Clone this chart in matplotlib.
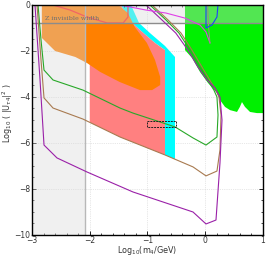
import matplotlib
matplotlib.use('Agg')
import matplotlib.pyplot as plt
from matplotlib.ticker import MultipleLocator

# ---- region boundaries (log10 m4 / GeV, log10 |U|^2) ----
orange_x = [-2.83, -2.83, -2.60, -2.25, -2.05, -1.82, -1.48, -1.13, -0.92, -0.78, -0.78, -0.87, -1.01, -1.22, -1.34, -1.51]
orange_y = [0.0, -1.43, -2.00, -2.26, -2.52, -2.91, -3.35, -3.70, -3.70, -3.48, -3.13, -2.39, -1.65, -0.96, -0.35, 0.0]

pink_x = [-2.0, -2.0, -1.476, -0.697, -0.697, -0.87, -1.13, -1.32, -1.459]
pink_y = [0.0, -5.10, -5.74, -6.52, -1.96, -1.65, -1.09, -0.65, 0.0]

cyan_x = [-1.528, -1.286, -1.147, -0.957, -0.697, -0.524, -0.524, -0.697, -0.697, -0.87, -1.13, -1.32, -1.459]
cyan_y = [0.0, 0.0, -0.78, -1.22, -1.78, -2.26, -6.70, -6.52, -1.96, -1.65, -1.09, -0.65, 0.0]

lime_x = [-0.351, -0.351, -0.229, -0.091, 0.048, 0.203, 0.255, 0.342, 0.429, 0.55, 0.60, 0.636, 0.688, 0.775, 0.896, 1.0, 1.0]
lime_y = [0.0, -1.96, -2.30, -2.91, -3.39, -3.83, -4.13, -4.43, -4.57, -4.65, -4.43, -4.22, -4.43, -4.65, -4.70, -4.70, 0.0]

# ---- curves ----
green_x = [-2.896, -2.844, -2.792, -2.636, -2.117, -1.476, -1.251, -0.524, -0.212, 0.013, 0.203, 0.221, 0.203,
           0.15, 0.065, -0.091, -0.264, -0.455, -0.68, -0.957]
green_y = [0.0, -1.52, -2.83, -3.26, -3.70, -4.48, -4.70, -5.30, -5.78, -6.09, -5.74, -4.78, -4.0,
           -3.70, -3.35, -2.70, -1.96, -1.22, -0.65, 0.0]

brown_x = [-2.913, -2.844, -2.792, -2.636, -2.117, -1.476, -0.697, -0.212, 0.013, 0.203, 0.255, 0.273, 0.238,
           0.186, 0.10, -0.056, -0.23, -0.42, -0.645, -0.922]
brown_y = [0.0, -2.39, -4.04, -4.48, -4.96, -5.74, -6.52, -7.04, -7.43, -7.22, -6.30, -4.78, -4.0,
           -3.70, -3.35, -2.70, -1.96, -1.22, -0.65, 0.0]

purple_x = [-2.948, -2.861, -2.792, -2.567, -2.048, -1.251, -0.212, 0.013, 0.186, 0.255, 0.29, 0.255,
            0.17, 0.03, -0.125, -0.30, -0.51, -0.75, -1.026]
purple_y = [0.0, -3.26, -6.09, -6.65, -7.26, -8.13, -9.0, -9.52, -9.35, -6.87, -5.0, -4.0,
            -3.61, -3.26, -2.70, -1.96, -1.22, -0.65, 0.0]

magenta_x = [-1.476, -1.026, -0.68, -0.35, -0.091, 0.013, 0.082]
magenta_y = [0.0, -0.22, -0.35, -0.57, -0.87, -1.17, -1.65]

grey_x = [0.04, 0.06, 0.082]
grey_y = [0.0, -1.0, -1.65]

blue_x = [0.013, 0.013, 0.117, 0.203, 0.22]
blue_y = [0.0, -1.0, -0.87, -0.52, 0.0]

red_x = [-2.636, -2.34, -2.05, -1.70, -1.42, -1.338, -1.338]
red_y = [0.0, -0.22, -0.52, -0.78, -0.78, -0.52, 0.0]

box_x = [-1.0, -0.5, -0.5, -1.0, -1.0]
box_y = [-5.04, -5.04, -5.30, -5.30, -5.04]

m_cut = -2.08      # light grey band edge in mass
z_cut = -0.8       # Z invisible width line

fig = plt.figure(figsize=(2.66, 2.59), dpi=100)
ax = fig.add_axes([0.1203, 0.0927, 0.8684, 0.888])

ax.fill(cyan_x, cyan_y, color='#00ffff', lw=0, zorder=1)
ax.fill(pink_x, pink_y, color='#ff8080', lw=0, zorder=2)
ax.fill(orange_x, orange_y, color='#ff8000', lw=0, zorder=3)
ax.fill(lime_x, lime_y, color='#00f000', lw=0, zorder=3)
ax.plot(red_x, red_y, color='#ff2020', lw=0.9, zorder=4)

# grey overlays (L-shaped so the corner is not doubled)
ov_x = [-3, m_cut, m_cut, 1, 1, -3]
ov_y = [-10, -10, z_cut, z_cut, 0, 0]
ax.fill(ov_x, ov_y, color='#d8d8d8', alpha=0.38, lw=0, zorder=5)
ax.axvline(m_cut, color='#b8b8b8', lw=1.0, zorder=6)
ax.axhline(z_cut, color='#8c8c8c', lw=1.0, zorder=6)
ax.text(-2.78, -0.6, 'Z invisible width', family='DejaVu Serif', fontsize=4.6,
        color='#707070', va='center', zorder=6)

# faint grid
for gx in [-2, -1, 0]:
    ax.axvline(gx, color='#d0d0d0', lw=0.5, ls=':', zorder=0.5)
for gy in [-2, -4, -6, -8]:
    ax.axhline(gy, color='#d0d0d0', lw=0.5, ls=':', zorder=0.5)

ax.plot(green_x, green_y, color='#28a828', lw=0.8, zorder=7)
ax.plot(brown_x, brown_y, color='#a87a50', lw=0.8, zorder=7)
ax.plot(purple_x, purple_y, color='#9a20a8', lw=0.8, zorder=7)
ax.plot(magenta_x, magenta_y, color='#e040e8', lw=0.8, zorder=7)
ax.plot(grey_x, grey_y, color='#a08888', lw=0.7, zorder=7)
ax.plot(blue_x, blue_y, color='#2040ff', lw=0.8, zorder=7)
ax.plot(box_x, box_y, color='#202020', lw=0.7, ls=(0, (2, 1)), zorder=8)

ax.set_xlim(-3, 1)
ax.set_ylim(-10, 0)
ax.xaxis.set_major_locator(MultipleLocator(1))
ax.xaxis.set_minor_locator(MultipleLocator(0.2))
ax.yaxis.set_major_locator(MultipleLocator(2))
ax.yaxis.set_minor_locator(MultipleLocator(0.5))
ax.tick_params(which='both', direction='in', top=True, right=True, labelsize=5.5,
               labelcolor='#333333')
ax.tick_params(axis='x', pad=1)
ax.tick_params(axis='y', pad=1.5)
ax.tick_params(which='major', length=3, width=0.6)
ax.tick_params(which='minor', length=1.5, width=0.5)
for s in ax.spines.values():
    s.set_linewidth(1.0)
    s.set_zorder(10)

ax.set_xlabel(r'Log$_{10}$(m$_4$/GeV)', fontsize=5.8, color='#333333')
ax.set_ylabel(r'Log$_{10}$ ( |U$_{\tau 4}$|$^2$ )', fontsize=5.8, color='#333333')
ax.xaxis.set_label_coords(0.5, -0.04)
ax.yaxis.set_label_coords(-0.075, 0.53)

fig.savefig('out.png', dpi=100)
